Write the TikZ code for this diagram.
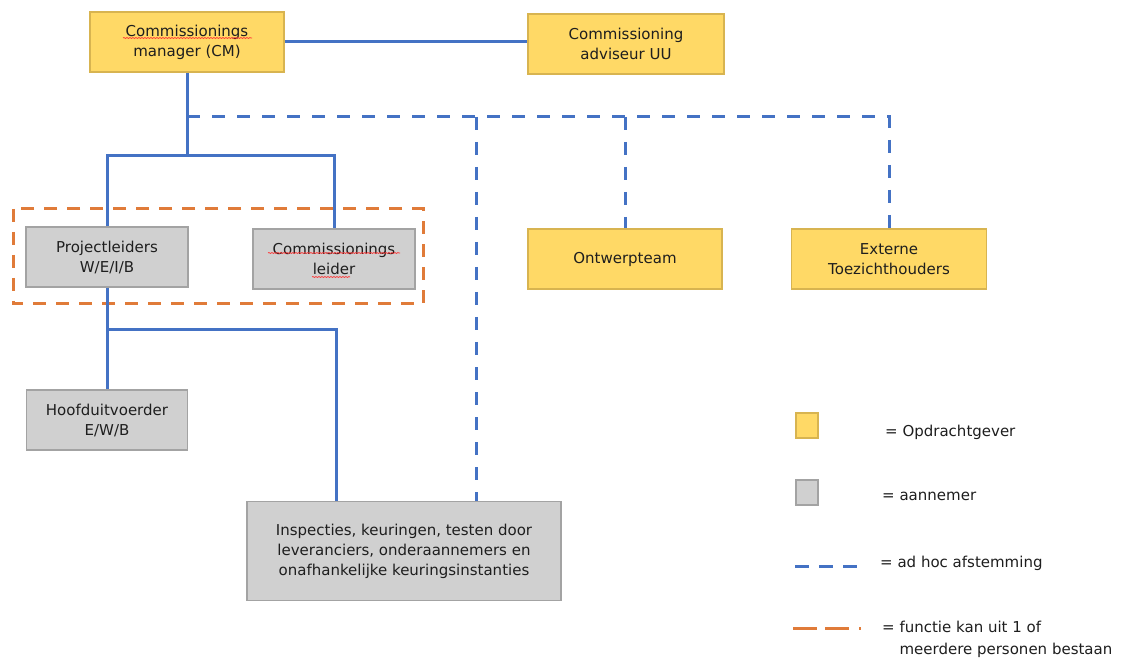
\documentclass[tikz,border=0pt]{standalone}
\usepackage{fontspec}
\setmainfont{DejaVu Sans}
\usepackage{tikz}
\usetikzlibrary{positioning,decorations.pathmorphing}
\definecolor{opdrclr}{HTML}{FFD966}
\definecolor{opdredge}{HTML}{D8B450}
\definecolor{aanclr}{HTML}{D0D0D0}
\definecolor{aanedge}{HTML}{A3A3A3}
\definecolor{lineclr}{HTML}{4472C4}
\definecolor{frameclr}{HTML}{E07B39}
\definecolor{txtclr}{HTML}{1E1E1E}
\tikzset{
  rol/.style={draw, line width=1.2pt, inner sep=0pt, align=center, text=txtclr,
    font=\fontsize{15}{20}\selectfont, minimum height=60pt},
  opdr/.style={rol, draw=opdredge, fill=opdrclr},
  aan/.style={rol, draw=aanedge, fill=aanclr},
  lijn/.style={draw=lineclr, line width=3pt},
  adhoc/.style={draw=lineclr, line width=3pt, dash pattern=on 13pt off 12pt},
  kader/.style={draw=frameclr, line width=3pt, dash pattern=on 13pt off 10pt},
  spell/.style={draw=red!80, line width=0.7pt, decorate,
    decoration={snake, amplitude=0.5pt, segment length=3pt}},
  legtxt/.style={right, inner sep=0pt, text=txtclr, align=left,
    font=\fontsize{15}{22}\selectfont}
}

\begin{document}
\begin{tikzpicture}[x=1pt, y=-1pt]%[remember picture,overlay]
\fill[white] (0,0) rectangle (1130,660);
\node[opdr, minimum width=194pt] (cm) at (187,42) {Commissionings\\manager (CM)};
\node[opdr, minimum width=196pt] (adv) at (626,44) {Commissioning\\adviseur UU};
\node[aan, minimum width=162pt] (pl) at (107,257) {Projectleiders\\W/E/I/B};
\node[aan, minimum width=162pt] (cl) at (334,259) {Commissionings\\leider};
\node[opdr, minimum width=194pt] (ont) at (625,259) {Ontwerpteam};
\node[opdr, minimum width=195pt] (ext) at (889,259) {Externe\\Toezichthouders};
\node[aan, minimum width=161pt] (hfd) at (107,420) {Hoofduitvoerder\\E/W/B};
\node[aan, minimum width=314pt, minimum height=99pt] (insp) at (404,551)
  {Inspecties, keuringen, testen door\\leveranciers, onderaannemers en\\onafhankelijke keuringsinstanties};

\draw[kader] (13,209) rectangle (423,304);

\coordinate (split) at (187,156);
\coordinate (tak) at (187,117);
\coordinate (uitv) at (108,330);
\coordinate (keur) at (476,117);
\draw[lijn] (cm.east) -- (cm.east -| adv.west);
\draw[lijn] (cm.south) -- (split);
\draw[lijn] (pl.north) |- (split) -| (cl.north);
\draw[lijn] (pl.south) -- (hfd.north);
\draw[lijn] (uitv) -| (336,500) -- (insp.north -| 336,0);
\draw[adhoc] (tak) -| (ext.north);
\draw[adhoc] (keur) -- (keur |- insp.north);
\draw[adhoc] (ont.north |- tak) -- (ont.north);

% spelling marks
\draw[spell] (123,38) -- (252,38);
\draw[spell] (268,253) -- (400,253);
\draw[spell] (312,277) -- (350,277);

% legend
\draw[opdr] (796,413) rectangle (818,438);
\draw[aan] (796,480) rectangle (818,505);
\draw[adhoc, dash pattern=on 14pt off 10pt] (795,566) -- (860,566);
\draw[kader, dash pattern=on 24pt off 8pt on 24pt off 10pt on 2pt off 40pt] (793,628) -- (862,628);
\node[legtxt] (legopdr) at (885,432) {= Opdrachtgever};
\node[legtxt] (legaan) at (882,496) {= aannemer};
\node[legtxt] (legadhoc) at (880,563) {= ad hoc afstemming};
\node[legtxt] (legkader) at (882,639) {= functie kan uit 1 of\\\phantom{= }meerdere personen bestaan};
\end{tikzpicture}
\end{document}
